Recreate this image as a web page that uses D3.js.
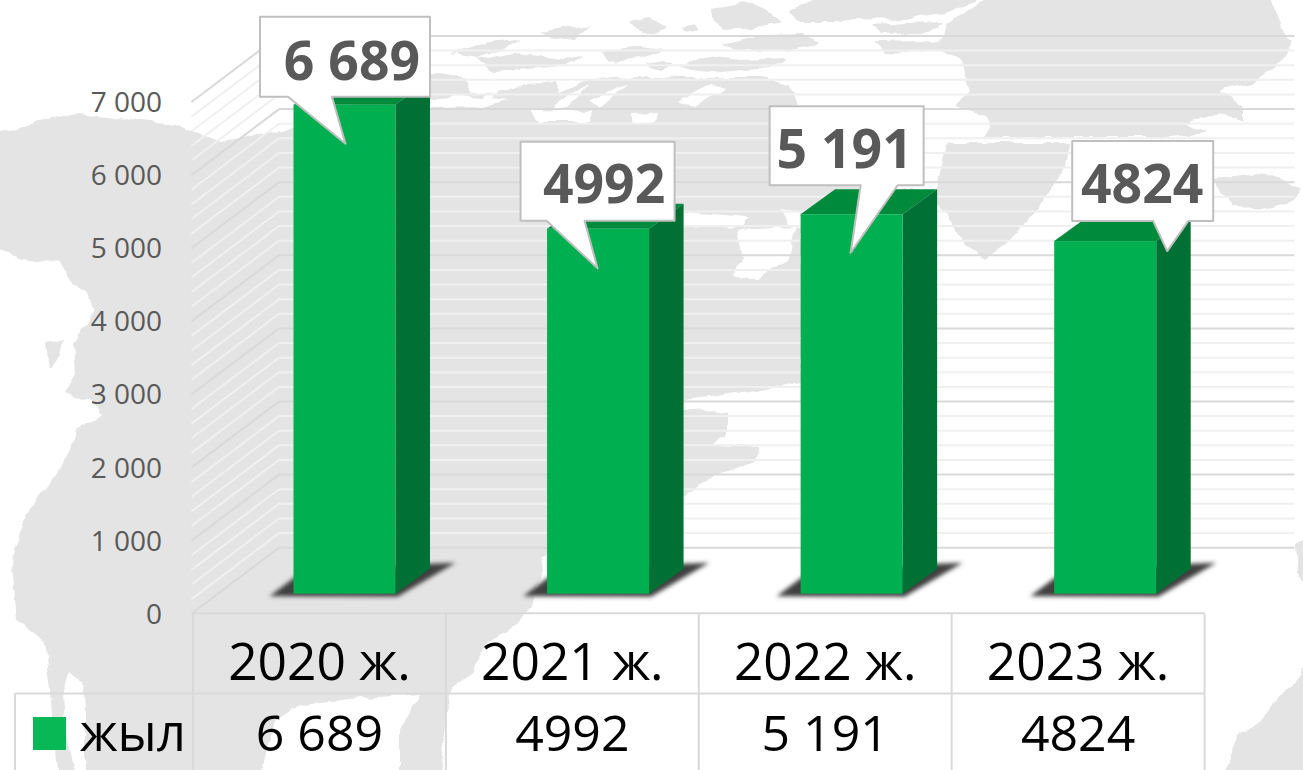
<!DOCTYPE html>
<html><head><meta charset="utf-8">
<script src="https://cdn.jsdelivr.net/npm/d3@7"></script>
<style>html,body{margin:0;padding:0;background:#fff;overflow:hidden}svg{display:block}text{font-family:"Open Sans",sans-serif}</style>
</head><body><svg id="c" width="1303" height="770"></svg>
<script>
const categories = ["2020 ж.", "2021 ж.", "2022 ж.", "2023 ж."];
const seriesName = "жыл";
const values = [6689, 4992, 5191, 4824];
const valueLabels = ["6 689", "4992", "5 191", "4824"];
const yTicks = [0, 1000, 2000, 3000, 4000, 5000, 6000, 7000];
const minorStep = 200;

// layout (not data)
const W = 1303, H = 770;
const left = 193, right = 1204.5, plotBottom = 612.7, plotTop = 101;
const depthX = 87, depthY = 65;
const barW = 102, barInsetY = 19, sideX = 34.5, sideY = 25;
// callout geometry relative to the bar's front-top-centre
const callouts = [
  {box:[-84.5,-88,170,80], base:[-56.5,-13], tip:[1,39], tx:7.5, by:-25, baseW:44},
  {box:[-77.5,-87,154,79], base:[-51.5,-13.5], tip:[-0.5,39.5], tx:6, by:-26, baseW:38},
  {box:[-82,-108,154,79], base:[9,-29], tip:[-1,38.5], tx:-7, by:-46, baseW:37},
  {box:[-33,-100,141,80], base:[48,-20], tip:[62,10], tx:37, by:-38, baseW:35}
];

const svg = d3.select("#c");
const defs = svg.append("defs");
defs.append("filter").attr("id","blur").attr("x","-30%").attr("y","-60%").attr("width","160%").attr("height","220%")
  .append("feGaussianBlur").attr("stdDeviation",2.2);
const rough = defs.append("filter").attr("id","rough").attr("filterUnits","userSpaceOnUse")
  .attr("x",-20).attr("y",-20).attr("width",W+40).attr("height",H+40);
rough.append("feTurbulence").attr("type","fractalNoise").attr("baseFrequency",0.045).attr("numOctaves",3).attr("seed",4).attr("result","n");
rough.append("feDisplacementMap").attr("in","SourceGraphic").attr("in2","n").attr("scale",9).attr("xChannelSelector","R").attr("yChannelSelector","G").attr("result","d");
rough.append("feGaussianBlur").attr("in","d").attr("stdDeviation",0.6);

// ---------- background world map (decorative) ----------
const land = [
 [[0,132],[40,122],[80,113],[108,116],[140,122],[175,126],[205,135],[227,142],[247,137],[293,128],[430,73],[465,78],[470,92],[500,92],[513,88],[525,85],[555,83],[560,92],[590,78],[640,76],[680,78],[760,78],[790,85],[797,100],[801,160],[870,190],[936,190],[948,143],[1070,143],[1065,170],[1047,195],[1010,240],[985,258],[965,245],[945,215],[936,200],[801,230],[801,383],[710,397],[690,404],[727,412],[727,435],[712,445],[760,447],[752,462],[710,478],[686,495],[650,510],[620,520],[544,557],[532,607],[520,625],[486,643],[470,670],[452,690],[445,725],[440,775],[400,775],[400,730],[420,695],[350,700],[300,705],[275,720],[260,775],[85,775],[85,710],[83,680],[70,672],[63,690],[65,730],[75,775],[57,775],[50,690],[43,637],[17,620],[12,567],[13,547],[33,507],[70,453],[80,430],[100,413],[90,400],[65,392],[75,375],[73,345],[95,310],[87,293],[70,280],[60,263],[23,258],[-10,245],[-10,132]],
 [[47,345],[63,340],[60,355],[50,368]],
 // northern band
 [[948,22],[1000,-10],[1267,-10],[1280,30],[1293,42],[1277,63],[1253,83],[1220,90],[1243,107],[1243,122],[1220,113],[1187,123],[1207,133],[1170,137],[983,137],[990,128],[987,117],[957,107],[970,90],[960,57],[930,50],[945,35]],
 [[850,-10],[1003,-10],[945,12],[905,20],[800,18]],
 [[873,25],[905,23],[945,22],[930,32],[880,33]],
 [[873,41],[925,40],[950,48],[910,53],[885,52]],
 // islands
 [[713,8],[745,2],[770,12],[783,22],[750,28],[725,30],[715,20]],
 [[790,10],[830,-5],[860,5],[880,12],[840,22],[800,22]],
 [[630,22],[650,18],[667,28],[660,33],[640,30]],
 [[540,33],[565,29],[590,25],[575,38],[555,40]],
 [[680,28],[695,25],[700,30],[685,33]],
 [[723,45],[760,36],[800,35],[820,42],[790,50],[740,50]],
 [[450,53],[490,42],[523,38],[500,50],[475,58]],
 [[473,60],[520,52],[545,56],[583,60],[560,66],[495,72]],
 [[600,52],[640,47],[663,50],[640,60],[610,63]],
 [[647,63],[665,60],[673,65],[660,70]],
 [[680,68],[700,55],[740,60],[787,58],[770,68],[720,72]],
 // Iceland-shaped blob
 [[1213,178],[1235,176],[1262,172],[1285,180],[1300,190],[1290,202],[1258,210],[1232,205],[1222,190]],
 // bottom right
 [[1310,650],[1295,680],[1268,712],[1240,735],[1223,775],[1310,775]],
 [[1297,545],[1310,535],[1310,590],[1299,575]]
];
const holes = [
 [[530,110],[590,111],[588,123],[540,123]],
 [[630,114],[657,113],[655,123],[632,123]],
 [[737,230],[797,227],[790,257],[757,280],[733,275],[743,257]],
 [[683,213],[750,218],[745,227],[684,225]],
 [[780,208],[801,212],[801,230],[790,225]],
 [[683,400],[710,397],[725,408],[684,412]],
 [[484,95],[503,90],[480,108],[470,107]],
 [[560,100],[590,85],[570,108],[552,110]],
 [[590,100],[630,82],[600,108]],
 [[680,100],[710,84],[725,88],[695,108]],
 [[430,100],[470,96],[510,100],[480,107],[430,108]]
];
const lineGen = d3.line().curve(d3.curveLinearClosed);
const map = svg.append("g").attr("filter","url(#rough)");
map.selectAll("path.land").data(land).join("path").attr("class","land")
  .attr("d",lineGen).attr("fill","#e4e4e4");
map.selectAll("path.hole").data(holes).join("path").attr("class","hole")
  .attr("d",lineGen).attr("fill","#fff");

// ---------- scales ----------
const y = d3.scaleLinear().domain([0,7000]).range([plotBottom,plotTop]);
const x = d3.scaleBand().domain(categories).range([left,right]).padding(0);
const xBar = d3.scaleBand().domain(categories).range([217.7,1232]).padding(0);

// ---------- walls ----------
const grid = svg.append("g").attr("fill","none");
const gridVals = d3.range(0,7000+minorStep,minorStep);
grid.selectAll("path").data(gridVals.slice().sort((a,b)=>(a%1000===0)-(b%1000===0))).join("path")
  .attr("d",v=>d3.line()([[left-1.5,y(v)+1],[left+depthX-1,y(v)-depthY],[right+depthX+3,y(v)-depthY]]))
  .attr("stroke",v=>v%1000===0?"#d9d9d9":"#f0f0f0").attr("stroke-width",2);

// ---------- y axis ----------
const axis = d3.axisLeft(y).tickValues(yTicks).tickSize(0).tickPadding(0)
  .tickFormat(v=>v===0?"0":d3.format(",")(v).replace(/,/g," "));
const ag = svg.append("g").attr("transform","translate(162,0)").call(axis);
ag.select(".domain").remove();
ag.selectAll("text").attr("font-size",28).attr("fill","#595959").attr("font-family",'"Open Sans",sans-serif').attr("dy",10.5).attr("x",0);

// ---------- bars ----------
const bars = svg.append("g").selectAll("g").data(values).join("g");
const bx = (d,i)=>xBar(categories[i])+xBar.bandwidth()/2-barW/2;
const fy = d=>y(d)-barInsetY;
const by0 = y(0)-barInsetY;
const p = pts=>d3.line()(pts)+"Z";
bars.append("path").attr("filter","url(#blur)").attr("fill","#3f3f3f")
  .attr("d",(d,i)=>{const a=bx(d,i);return p([[a-24,by0+2.5],[a+2,by0-17],[a+barW+34,by0-30],[a+barW+60,by0-31],[a+barW+2,by0+3]]);});
bars.append("path").attr("fill","#008a3c").attr("d",(d,i)=>{const a=bx(d,i),t=fy(d);return p([[a,t],[a+barW,t],[a+barW+sideX,t-sideY],[a+sideX,t-sideY]]);});
bars.append("path").attr("fill","#007034").attr("d",(d,i)=>{const a=bx(d,i),t=fy(d);return p([[a+barW,t],[a+barW+sideX,t-sideY],[a+barW+sideX,by0-sideY],[a+barW,by0]]);});
bars.append("rect").attr("fill","#00b050").attr("x",bx).attr("y",fy).attr("width",barW).attr("height",d=>by0-fy(d));

// ---------- data table ----------
const tableMid = 693.5;
const tb = svg.append("g").attr("stroke","#d9d9d9").attr("stroke-width",2).attr("fill","none");
tb.append("path").attr("d",`M${left},${plotBottom+.5}H${right}M15,${tableMid}H${right}M15,${tableMid}V${H}`);
tb.selectAll("path.v").data(categories.concat(["end"])).join("path").attr("class","v")
  .attr("d",(d,i)=>`M${i<4?x(d):right},${plotBottom+.5}V${H}`);
const cells = svg.append("g").attr("text-anchor","middle").attr("fill","#000");
cells.selectAll("text.cat").data(categories).join("text").attr("class","cat").attr("font-size",51.5)
  .attr("x",d=>x(d)+x.bandwidth()/2).attr("y",680).text(d=>d);
cells.selectAll("text.val").data(valueLabels).join("text").attr("class","val").attr("font-size",50)
  .attr("x",(d,i)=>x(categories[i])+x.bandwidth()/2).attr("y",751).text(d=>d);
svg.append("rect").attr("x",33).attr("y",717).attr("width",33).attr("height",33).attr("fill","#07b855");
svg.append("text").attr("x",80).attr("y",751).attr("font-size",51).attr("fill","#000").text(seriesName);

// ---------- callouts ----------
const cg = svg.append("g").selectAll("g").data(values).join("g");
cg.append("path").attr("fill","#fff").attr("stroke","#bfbfbf").attr("stroke-width",2).attr("stroke-linejoin","round")
  .attr("d",(d,i)=>{
    const c=callouts[i],cx=bx(d,i)+barW/2,t=fy(d);
    const [l,tp,w,h]=[cx+c.box[0],t+c.box[1],c.box[2],c.box[3]];
    const b0=cx+c.base[0],tipx=cx+c.tip[0],tipy=t+c.tip[1];
    return p([[l,tp],[l+w,tp],[l+w,tp+h],[b0+c.baseW,tp+h],[tipx,tipy],[b0,tp+h],[l,tp+h]]);
  });
cg.append("text").attr("text-anchor","middle").attr("font-size",53.5).attr("font-weight",700).attr("fill","#595959")
  .attr("x",(d,i)=>bx(d,i)+barW/2+callouts[i].tx).attr("y",(d,i)=>fy(d)+callouts[i].by).text((d,i)=>valueLabels[i]);
</script></body></html>
